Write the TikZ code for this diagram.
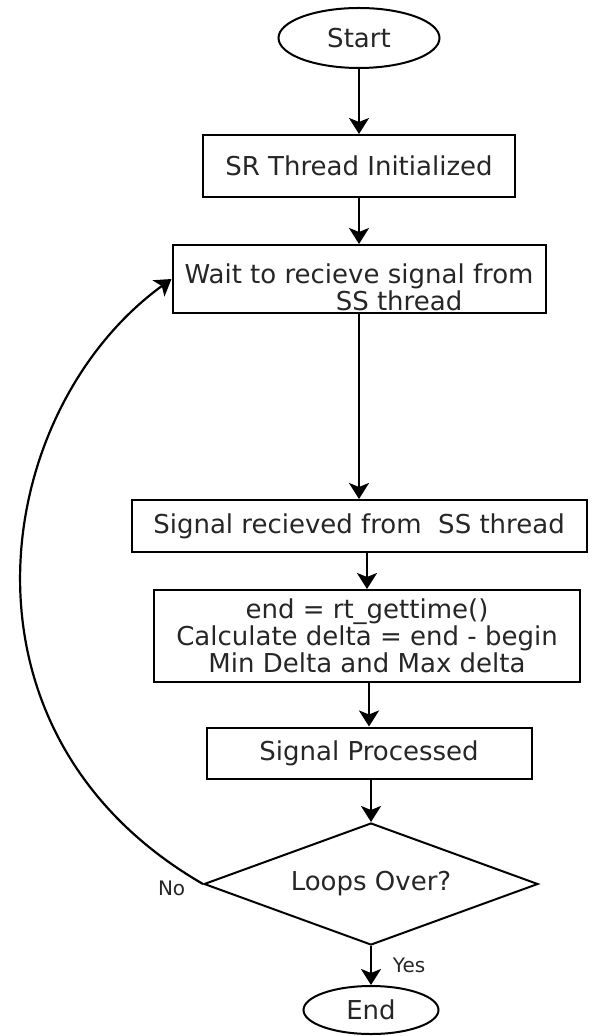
\documentclass[tikz,border=0pt]{standalone}
\usepackage{fontspec}
\setmainfont{DejaVu Sans}
\usetikzlibrary{shapes,arrows.meta}
\tikzstyle{terminal} = [ellipse, draw, line width=1pt, inner sep=0pt]
\tikzstyle{process} = [rectangle, draw, line width=1pt, align=center, inner sep=2pt]
\tikzstyle{decision} = [diamond, draw, line width=1pt, inner sep=0pt, aspect=2.74]
\tikzstyle{branch} = [font=\fontsize{10}{12}\selectfont]

\begin{document}
\begin{tikzpicture}[>={Stealth[length=8pt,width=10pt,inset=2pt]}, font=\fontsize{13}{13.5}\selectfont, text=black!85, line width=1.3pt]
   \useasboundingbox (0,0) rectangle (296pt,-518pt);
   % nodes
   \node[terminal, minimum width=80.5pt, minimum height=30pt] (start) at (179.5pt,-19pt) {Start};
   \node[process, minimum width=156pt, minimum height=31pt] (init) [below of=start, node distance=64pt]   {SR Thread Initialized};
   \node[process, minimum width=186.5pt, minimum height=34pt, inner sep=0pt] (wait) [below of=init, node distance=56.5pt] {\rule{0pt}{18pt}Wait to recieve signal from\\\hspace*{40pt}SS thread};
   \node[process, minimum width=227.5pt, minimum height=26pt] (recv) [below of=wait, node distance=123.5pt] {Signal recieved from\ \ SS thread};
   \node[process, minimum width=213pt, minimum height=46pt] (calc) [below of=recv, node distance=55pt, xshift=4pt] {end = rt\_gettime()\\Calculate delta = end - begin\\Min Delta and Max delta};
   \node[process, minimum width=162.5pt, minimum height=25.5pt] (done) [below of=calc, node distance=58.5pt, xshift=1pt] {Signal Processed};
   \node[decision, minimum width=167pt, minimum height=61pt] (loop) [below of=done, node distance=65.5pt, xshift=1pt] {Loops Over?};
   \node[terminal, minimum width=67.5pt, minimum height=24pt] (end) [below of=loop, node distance=63pt] {End};

   % edges
   \draw[->] (start) -- (init);
   \draw[->] (init) -- (wait);
   \draw[->] (wait) -- (recv);
   \draw[->] (recv.south -| calc) -- (calc.north);
   \draw[->] (calc.south -| done) -- (done.north);
   \draw[->] (done.south -| loop) -- (loop.north);
   \draw[->] (loop) -- node[branch, right=7pt] (yes) {Yes} (end);
   \draw[->, line width=1.1pt] (loop.west) to [out=150, in=216, out looseness=1.28, in looseness=0.94] node[branch, pos=0, left=5pt, yshift=-2pt] (no) {No} (wait.west);
\end{tikzpicture}
\end{document}
